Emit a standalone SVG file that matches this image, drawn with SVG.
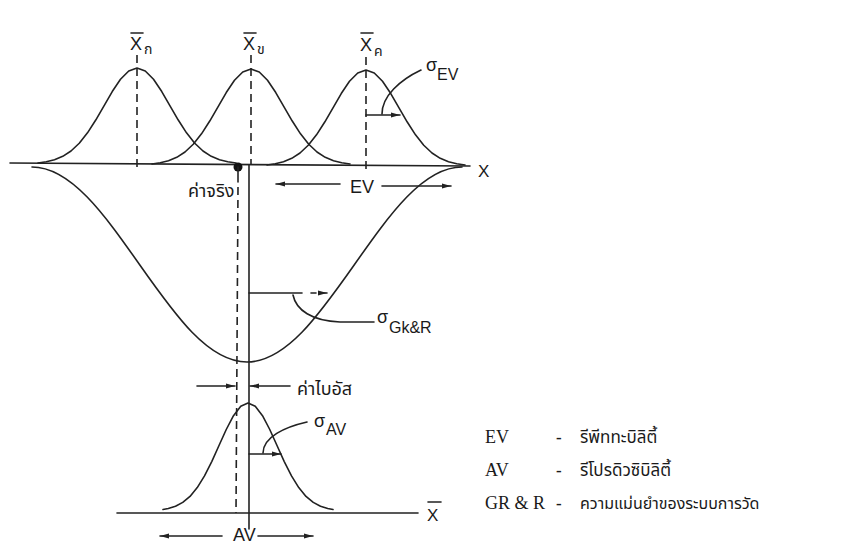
<svg xmlns="http://www.w3.org/2000/svg" xmlns:xlink="http://www.w3.org/1999/xlink" width="853" height="553" viewBox="0 0 853 553">
<style>
.ln{fill:none;stroke:#222;stroke-width:1.6;stroke-linejoin:round;stroke-linecap:round}
.ds{fill:none;stroke:#222;stroke-width:1.6;stroke-dasharray:8 5}
.sans{font-family:"Liberation Sans",Arial,sans-serif;fill:#1a1a1a}
.serif{font-family:"Liberation Serif","Times New Roman",serif;fill:#1a1a1a}
.thai{font-family:"Noto Sans Thai","Loma","Garuda","Tlwg Typo","Noto Sans","DejaVu Sans",sans-serif;fill:#1a1a1a}
</style>
<defs>
<marker id="ah" markerWidth="9" markerHeight="7" refX="9" refY="3.5" orient="auto" markerUnits="userSpaceOnUse"><path d="M0,1 L9,3.5 L0,6 z" fill="#222"/></marker>
<polyline id="gtop" class="ln" points="-99,-1.07 -90.75,-2.19 -82.5,-4.21 -74.25,-7.64 -66,-12.99 -57.75,-20.76 -49.5,-31.17 -41.25,-43.95 -33,-58.22 -24.75,-72.46 -16.5,-84.72 -8.25,-93.04 0,-96 8.25,-93.04 16.5,-84.72 24.75,-72.46 33,-58.22 41.25,-43.95 49.5,-31.17 57.75,-20.76 66,-12.99 74.25,-7.64 82.5,-4.21 90.75,-2.19 99,-1.07"/>
</defs>
<rect width="853" height="553" fill="#fff"/>

<g id="top-axis">
<line class="ln" x1="10" y1="163" x2="470" y2="166"/>
<text class="sans" x="478" y="177" font-size="17">X</text>
</g>

<g id="dist-n">
<use xlink:href="#gtop" x="137" y="164"/>
<line class="ds" x1="137" y1="55" x2="137" y2="170"/>
<line class="ln" x1="131" y1="33" x2="143" y2="33"/>
<text class="sans" x="130" y="50" font-size="18">X</text>
<text class="thai" x="144" y="54" font-size="14">ก</text>
</g>

<g id="dist-kh">
<use xlink:href="#gtop" x="251" y="165"/>
<line class="ds" x1="251" y1="55" x2="251" y2="165"/>
<line class="ln" x1="244" y1="33" x2="256" y2="33"/>
<text class="sans" x="243" y="50" font-size="18">X</text>
<text class="thai" x="257" y="54" font-size="14">ข</text>
</g>

<g id="dist-kh2">
<use xlink:href="#gtop" x="366" y="166"/>
<line class="ds" x1="366" y1="57" x2="366" y2="173"/>
<line class="ln" x1="361" y1="33" x2="373" y2="33"/>
<text class="sans" x="360" y="51" font-size="18">X</text>
<text class="thai" x="374" y="56" font-size="14">ค</text>
</g>

<g id="true-value">
<circle cx="238" cy="167" r="4.5" fill="#111"/>
<line class="ln" x1="238" y1="167" x2="238" y2="182"/>
<text class="thai" x="188" y="197" font-size="18">ค่าจริง</text>
</g>

<g id="gkr-curve">
<path class="ln" d="M32,167 C70.9,167 104.4,214.6 139.5,264.5 C174.6,314.5 208.1,362 247,362 C285.9,362 319.4,314.5 354.5,264.5 C389.6,214.6 423.1,167 462,167"/>
</g>

<g id="verticals">
<line class="ln" x1="249" y1="165" x2="249" y2="529"/>
<line class="ds" x1="238" y1="187" x2="236" y2="513"/>
</g>

<g id="bottom-dist">
<polyline class="ln" transform="translate(248,511)" points="-85,-1.5 -79.75,-2.5 -72.5,-4.7 -65.25,-8.6 -58,-14.6 -50.75,-23.4 -43.5,-35.1 -36.25,-49.4 -29,-65.5 -21.75,-81.5 -14.5,-95.3 -7.25,-104.7 0,-108 7.25,-104.7 14.5,-95.3 21.75,-81.5 29,-65.5 36.25,-49.4 43.5,-35.1 50.75,-23.4 58,-14.6 65.25,-8.6 72.5,-4.7 79.75,-2.5 85,-1.5"/>
</g>

<g id="bottom-axis">
<line class="ln" x1="117" y1="513" x2="418" y2="513"/>
<line class="ln" x1="428" y1="502" x2="441" y2="502"/>
<text class="sans" x="427" y="521" font-size="17">X</text>
</g>

<g id="connectors">
<line class="ln" x1="340" y1="184" x2="276" y2="184" marker-end="url(#ah)"/>
<line class="ln" x1="382" y1="186" x2="451" y2="186" marker-end="url(#ah)"/>
<line class="ln" x1="366" y1="115" x2="400" y2="115" marker-end="url(#ah)"/>
<path class="ln" d="M382,114 C382,96 400,80 421,70"/>
<line class="ln" x1="249" y1="293" x2="302" y2="293"/>
<line class="ln" x1="311" y1="293" x2="316" y2="293"/>
<line class="ln" x1="319" y1="293" x2="327" y2="293" marker-end="url(#ah)"/>
<path class="ln" d="M293,295 C296,310 312,321 340,322 L374,322"/>
<line class="ln" x1="197" y1="386" x2="235" y2="386" marker-end="url(#ah)"/>
<line class="ln" x1="290" y1="386" x2="250" y2="386" marker-end="url(#ah)"/>
<line class="ln" x1="249" y1="454" x2="281" y2="454" marker-end="url(#ah)"/>
<path class="ln" d="M263,453 C263,437 285,427 307,422"/>
<line class="ln" x1="222" y1="536" x2="160" y2="536" marker-end="url(#ah)"/>
<line class="ln" x1="258" y1="536" x2="313" y2="536" marker-end="url(#ah)"/>
</g>

<g id="labels">
<text class="sans" x="350" y="193" font-size="18">EV</text>
<text class="sans" x="426" y="71" font-size="18">σ</text>
<text class="sans" x="437" y="80" font-size="16">EV</text>
<text class="sans" x="377" y="323" font-size="18">σ</text>
<text class="sans" x="389" y="333" font-size="16">Gk&amp;R</text>
<text class="thai" x="297" y="395" font-size="18">ค่าไบอัส</text>
<text class="sans" x="314" y="427" font-size="18">σ</text>
<text class="sans" x="326" y="435" font-size="16">AV</text>
<text class="sans" x="233" y="541" font-size="18">AV</text>
</g>

<g id="legend">
<text class="serif" x="485" y="443" font-size="18">EV</text>
<text class="serif" x="556" y="443" font-size="17" font-weight="bold">-</text>
<text class="thai" x="580" y="443" font-size="17">รีพีททะบิลิตี้</text>
<text class="serif" x="485" y="476" font-size="18">AV</text>
<text class="serif" x="556" y="476" font-size="17" font-weight="bold">-</text>
<text class="thai" x="580" y="476" font-size="17">รีโปรดิวซิบิลิตี้</text>
<text class="serif" x="485" y="509" font-size="18">GR &amp; R</text>
<text class="serif" x="556" y="509" font-size="17" font-weight="bold">-</text>
<text class="thai" x="580" y="509" font-size="16">ความแม่นยำของระบบการวัด</text>
</g>
</svg>
